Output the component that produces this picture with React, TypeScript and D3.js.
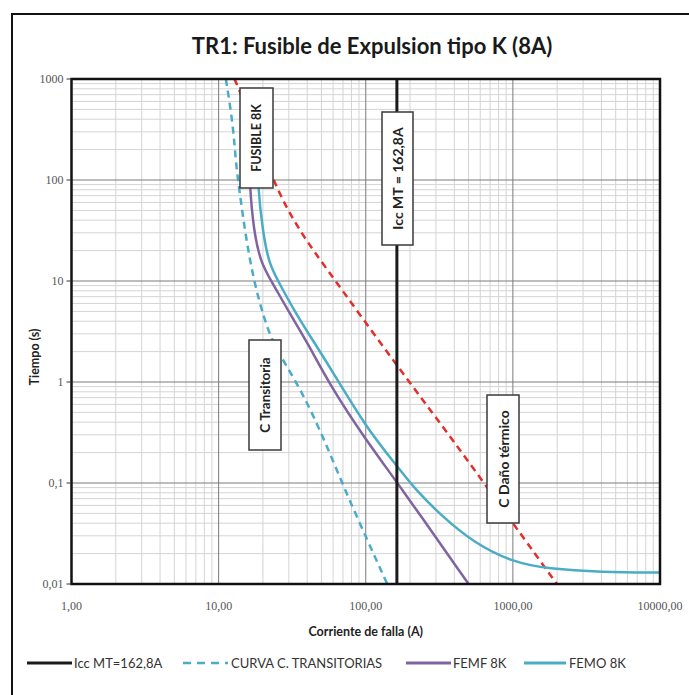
import React from "react";
import * as d3 from "d3";

// ---- data ----
const xTicks = [1, 10, 100, 1000, 10000];
const xTickLabels = ["1,00", "10,00", "100,00", "1000,00", "10000,00"];
const yTicks = [0.01, 0.1, 1, 10, 100, 1000];
const yTickLabels = ["0,01", "0,1", "1", "10", "100", "1000"];

const iccValue = 162.8;

// Curva C. transitorias (dashed cyan)
const transI = [11.2, 12.5, 13.1, 13.8, 15.3, 17.3, 20.2, 23.9, 36.1, 53.5, 76, 140];
const transT = [1000, 367, 147, 81, 27.3, 10.2, 4.4, 2.22, 0.87, 0.249, 0.071, 0.01];

// Curva daño térmico (dashed red)
const damageI = [12.8, 14.1, 23.7, 36.1, 55.1, 165, 379, 1000, 2000];
const damageT = [1000, 745, 89, 29.9, 12.8, 1.41, 0.285, 0.04, 0.0099];

// FEMF 8K (purple)
const femfI = [15.8, 16.3, 17.3, 19.3, 23.3, 29.5, 40.3, 56, 96.9, 165, 500];
const femfT = [300, 83, 32, 15.1, 9.5, 5.16, 2.43, 0.98, 0.285, 0.1, 0.01];

// FEMO 8K (cyan)
const femoI = [18.0, 18.5, 19.9, 21.9, 25.2, 32.4, 44.3, 57.8, 100, 165, 219, 324, 543, 1000, 1740, 4000, 10000];
const femoT = [300, 83, 32, 15.1, 10.2, 5.16, 2.5, 1.36, 0.358, 0.144, 0.085, 0.048, 0.0255, 0.0164, 0.0141, 0.0131, 0.013];

const legendItems = ["Icc MT=162,8A", "CURVA C. TRANSITORIAS", "FEMF 8K", "FEMO 8K"];

const W = 689;
const H = 695;
const X0 = 71.5, X1 = 660, Y0 = 79, Y1 = 584;

const x = d3.scaleLog().domain([1, 10000]).range([X0, X1]);
const y = d3.scaleLog().domain([0.01, 1000]).range([Y1, Y0]);

const zip = (a: number[], b: number[]) => a.map((v, i) => [v, b[i]] as [number, number]);
const line = d3
  .line<[number, number]>()
  .x((d) => x(d[0]))
  .y((d) => y(d[1]))
  .curve(d3.curveBasis);

const minorX: number[] = [];
[1, 10, 100, 1000].forEach((d) => {
  for (let k = 2; k <= 9; k++) minorX.push(d * k);
});
const minorY: number[] = [];
[0.01, 0.1, 1, 10, 100].forEach((d) => {
  for (let k = 2; k <= 9; k++) minorY.push(d * k);
});

const CYAN = "#4bacc6";
const PURPLE = "#8064a2";
const RED = "#e0302c";
const FONT = "Lato, 'Open Sans', sans-serif";
const TICKFONT = "'Liberation Serif', serif";

function LabelBox({ x0, y0, w, h, text, size }: { x0: number; y0: number; w: number; h: number; text: string; size: number }) {
  const cx = x0 + w / 2;
  const cy = y0 + h / 2;
  return (
    <g>
      <rect x={x0} y={y0} width={w} height={h} fill="#fff" stroke="#3a3a3a" strokeWidth={1.5} />
      <text
        transform={`translate(${cx},${cy}) rotate(-90)`}
        textAnchor="middle"
        dominantBaseline="central"
        fontFamily={FONT}
        fontWeight={700}
        fontSize={size}
        fill="#222"
      >
        {text}
      </text>
    </g>
  );
}

export default function App() {
  const xi = x(iccValue);
  return (
    <svg
      width={W}
      height={H}
      style={{ position: "absolute", left: 0, top: 0, background: "#fff" }}
    >
      <rect x={0} y={0} width={W} height={H} fill="#fff" />
      {/* outer frame */}
      <rect x={12} y={14} width={W + 20} height={H + 20} fill="none" stroke="#111" strokeWidth={2} />

      <text x={372} y={54} textAnchor="middle" fontFamily={FONT} fontWeight={700} fontSize={22} fill="#1a1a1a">
        TR1: Fusible de Expulsion tipo K (8A)
      </text>

      <defs>
        <clipPath id="plot">
          <rect x={X0} y={Y0} width={X1 - X0} height={Y1 - Y0} />
        </clipPath>
      </defs>

      {/* grid */}
      <g>
        {minorX.map((v) => (
          <line key={"mx" + v} x1={x(v)} x2={x(v)} y1={Y0} y2={Y1} stroke="#d4d4d4" strokeWidth={1} />
        ))}
        {minorY.map((v) => (
          <line key={"my" + v} x1={X0} x2={X1} y1={y(v)} y2={y(v)} stroke="#d4d4d4" strokeWidth={1} />
        ))}
        {xTicks.map((v) => (
          <line key={"Mx" + v} x1={x(v)} x2={x(v)} y1={Y0} y2={Y1} stroke="#7a7a7a" strokeWidth={1} />
        ))}
        {yTicks.map((v) => (
          <line key={"My" + v} x1={X0} x2={X1} y1={y(v)} y2={y(v)} stroke="#7a7a7a" strokeWidth={1} />
        ))}
      </g>

      {/* curves */}
      <g clipPath="url(#plot)" fill="none">
        <path d={line(zip(damageI, damageT)) || ""} stroke={RED} strokeWidth={2.5} strokeDasharray="7,5" />
        <path d={line(zip(transI, transT)) || ""} stroke={CYAN} strokeWidth={2.5} strokeDasharray="7,5" />
        <path d={line(zip(femfI, femfT)) || ""} stroke={PURPLE} strokeWidth={2.5} />
        <path d={line(zip(femoI, femoT)) || ""} stroke={CYAN} strokeWidth={2.5} />
        <line x1={xi} x2={xi} y1={Y0} y2={Y1} stroke="#1a1a1a" strokeWidth={3} />
      </g>

      {/* label boxes */}
      <LabelBox x0={240} y0={88} w={33} h={100} text="FUSIBLE 8K" size={12.5} />
      <LabelBox x0={382} y0={112} w={31} h={133} text="Icc MT = 162,8A" size={14} />
      <LabelBox x0={249} y0={340} w={32} h={110} text="C Transitoria" size={13.5} />
      <LabelBox x0={487} y0={395} w={32} h={128} text="C Daño térmico" size={14} />

      {/* plot frame */}
      <rect x={X0} y={Y0} width={X1 - X0} height={Y1 - Y0} fill="none" stroke="#111" strokeWidth={2.5} />

      {/* y ticks */}
      {yTicks.map((v, i) => (
        <g key={"yt" + v}>
          <line x1={X0 - 5} x2={X0} y1={y(v)} y2={y(v)} stroke="#333" strokeWidth={1} />
          <text
            x={X0 - 8}
            y={y(v)}
            textAnchor="end"
            dominantBaseline="central"
            fontFamily={TICKFONT}
            fontSize={12}
            fill="#555"
          >
            {yTickLabels[i]}
          </text>
        </g>
      ))}
      {/* x ticks */}
      {xTicks.map((v, i) => (
        <text
          key={"xt" + v}
          x={x(v)}
          y={606}
          textAnchor="middle"
          dominantBaseline="central"
          fontFamily={TICKFONT}
          fontSize={12}
          fill="#555"
        >
          {xTickLabels[i]}
        </text>
      ))}

      <text x={(X0 + X1) / 2} y={636} textAnchor="middle" fontFamily={FONT} fontWeight={700} fontSize={12.5} fill="#222">
        Corriente de falla (A)
      </text>
      <text
        transform={`translate(34,${357}) rotate(-90)`}
        textAnchor="middle"
        dominantBaseline="central"
        fontFamily={FONT}
        fontWeight={700}
        fontSize={12.5}
        fill="#222"
      >
        Tiempo (s)
      </text>

      {/* legend */}
      <g fontFamily={FONT} fontSize={13} fill="#333">
        <line x1={27} x2={72} y1={663} y2={663} stroke="#1a1a1a" strokeWidth={3} />
        <text x={74} y={663} dominantBaseline="central">{legendItems[0]}</text>
        <line x1={183} x2={228} y1={663} y2={663} stroke={CYAN} strokeWidth={2.5} strokeDasharray="8,6" />
        <text x={231} y={663} dominantBaseline="central">{legendItems[1]}</text>
        <line x1={406} x2={451} y1={663} y2={663} stroke={PURPLE} strokeWidth={3} />
        <text x={453} y={663} dominantBaseline="central">{legendItems[2]}</text>
        <line x1={524} x2={566} y1={663} y2={663} stroke={CYAN} strokeWidth={3} />
        <text x={569} y={663} dominantBaseline="central">{legendItems[3]}</text>
      </g>
    </svg>
  );
}
